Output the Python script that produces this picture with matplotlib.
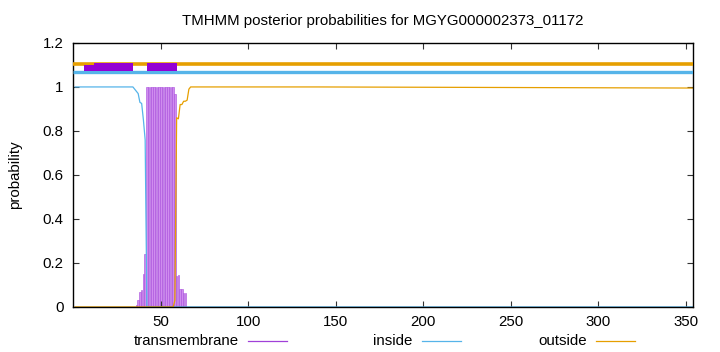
import matplotlib
matplotlib.use("Agg")
import matplotlib.pyplot as plt
from matplotlib.lines import Line2D

plt.rcParams['font.family'] = ['Liberation Sans', 'DejaVu Sans']

seq_len = 354
title = "TMHMM posterior probabilities for MGYG000002373_01172"

# transmembrane posterior (residues with non-zero probability)
tm_pos = [36, 37, 38, 39, 40, 41, 42, 43, 44, 45, 46, 47, 48, 49, 50, 51,
          52, 53, 54, 55, 56, 57, 58, 59, 60, 61, 62, 63, 64]
tm_prob = [0.01, 0.03, 0.07, 0.075, 0.15, 0.24, 1.0, 1.0, 1.0, 1.0, 1.0, 1.0,
           1.0, 1.0, 1.0, 1.0, 1.0, 1.0, 1.0, 1.0, 1.0, 1.0, 0.97, 0.14,
           0.145, 0.08, 0.08, 0.065, 0.065]

# inside / outside curves
inside_x = [1, 34, 35, 36, 37, 38, 39, 40, 41, 42, 354]
inside_y = [1.0, 1.0, 0.99, 0.98, 0.97, 0.93, 0.925, 0.85, 0.76, 0.0, 0.0]
outside_x = [1, 57, 58, 59, 60, 61, 62, 63, 64, 65, 66, 67, 140, 354]
outside_y = [0.0, 0.0, 0.03, 0.86, 0.855, 0.92, 0.92, 0.935, 0.935, 0.94,
             0.99, 1.0, 1.0, 0.995]

# predicted topology strip on top
top_outside_y = 1.105
top_inside_y = 1.067
tm_box_start = [6.1, 11.8, 42.3]
tm_box_end = [34.2, 34.2, 59.4]
tm_box_bottom = [1.073, 1.073, 1.073]
tm_box_top = [1.099, 1.108, 1.108]

c_tm = '#9400d3'
c_in = '#56b4e9'
c_out = '#e69f00'

fig = plt.figure(figsize=(7.2, 3.52), dpi=100)
ax = fig.add_axes([0.102, 0.128, 0.860, 0.750])

ax.bar(tm_pos, tm_prob, width=0.8, color='#d08cef', edgecolor='#a84ddc',
       linewidth=0.4, zorder=1)
ax.plot(inside_x, inside_y, color=c_in, lw=0.9, zorder=2)
ax.plot(outside_x, outside_y, color=c_out, lw=0.9, zorder=2)

ax.plot([0, seq_len], [top_outside_y] * 2, color=c_out, lw=2.6, zorder=3,
        solid_capstyle='butt')
ax.plot([0, seq_len], [top_inside_y] * 2, color=c_in, lw=2.4, zorder=3,
        solid_capstyle='butt')
for s, e, b, t in zip(tm_box_start, tm_box_end, tm_box_bottom, tm_box_top):
    ax.fill_between([s, e], b, t, color=c_tm, lw=0, zorder=4)

ax.set_xlim(0, seq_len)
ax.set_ylim(0, 1.2)
ax.set_xticks([50, 100, 150, 200, 250, 300, 350])
ax.set_yticks([0, 0.2, 0.4, 0.6, 0.8, 1.0, 1.2])
ax.set_yticklabels(['0', '0.2', '0.4', '0.6', '0.8', '1', '1.2'])
ax.tick_params(direction='in', top=True, right=True, length=4, width=0.8,
               labelsize=10.8, colors='#333333', labelcolor='black')
ax.tick_params(axis='x', pad=6)
ax.tick_params(axis='y', pad=7)
for sp in ax.spines.values():
    sp.set_linewidth(1.0)
    sp.set_color('black')

ax.set_ylabel('probability', fontsize=10.8, labelpad=15)
ax.set_title(title, fontsize=10.8, pad=13)

# legend below the axes
leg_y = 0.031
legend_items = [('transmembrane', 238.5, 248, 287, '#a040d8'),
                ('inside', 412.7, 422, 461, c_in),
                ('outside', 586.8, 596, 635, c_out)]
for label, tx, x0, x1, col in legend_items:
    fig.text(tx / 720, leg_y, label, ha='right', va='center', fontsize=10.8)
    fig.add_artist(Line2D([x0 / 720, x1 / 720], [leg_y, leg_y], color=col,
                          lw=0.9, transform=fig.transFigure))

fig.savefig('out.png', dpi=100)
